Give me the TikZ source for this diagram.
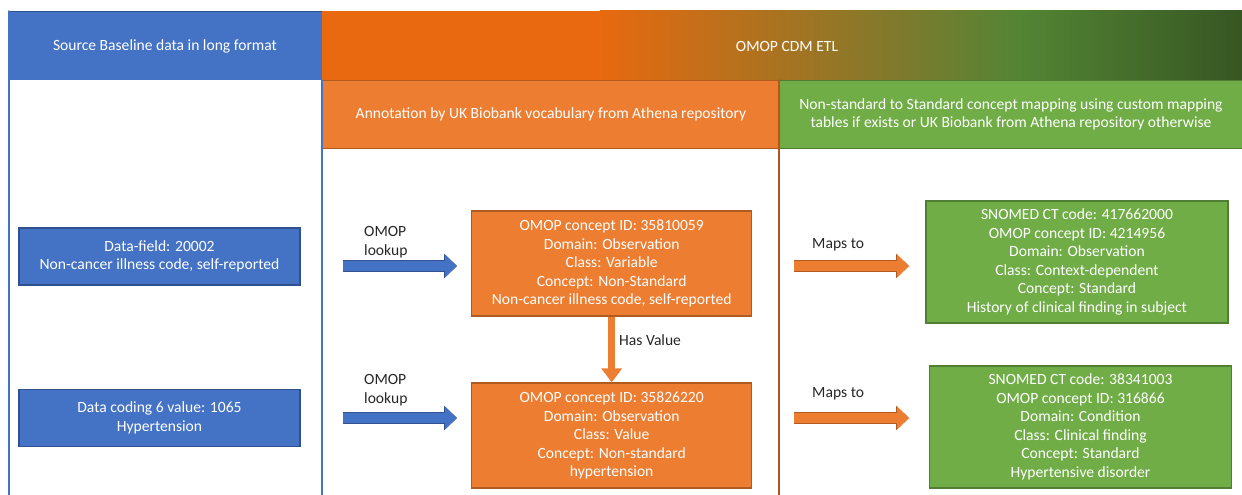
\documentclass[tikz,border=0pt]{standalone}
\usepackage{fontspec}
\setmainfont{Carlito}
\usepackage{tkz-euclide}
\usetikzlibrary{arrows.meta}

\definecolor{blueM}{HTML}{4472C4}
\definecolor{blueD}{HTML}{2F528F}
\definecolor{orangeM}{HTML}{ED7D31}
\definecolor{orangeD}{HTML}{AE5A21}
\definecolor{orangeH}{HTML}{E8690F}
\definecolor{oliveH}{HTML}{7E7A2D}
\definecolor{greenH}{HTML}{538534}
\definecolor{greenK}{HTML}{375623}
\definecolor{greenM}{HTML}{70AD47}
\definecolor{greenD}{HTML}{507E32}
\definecolor{brownL}{HTML}{B85318}
\definecolor{inkT}{HTML}{262626}

\begin{document}
\begin{tikzpicture}[x=1pt,y=-1pt,
  every node/.style={font=\fontsize{15.6}{18.5}\selectfont},
  srcbox/.style={draw=blueD,line width=1.2pt,fill=blueM,text=white,align=center,
    inner sep=0pt,minimum width=281pt,minimum height=57pt},
  omopbox/.style={draw=orangeD,line width=1.2pt,fill=orangeM,text=white,align=center,
    inner sep=0pt,minimum width=280pt,minimum height=105pt},
  snomedbox/.style={draw=greenD,line width=1.2pt,fill=greenM,text=white,align=center,
    inner sep=0pt,minimum width=302pt,minimum height=122pt},
  subhead/.style={line width=1pt,text=white,align=center,inner sep=0pt,
    anchor=north west,minimum height=68pt},
  lookarrow/.style={draw=blueM,line width=10pt,-{Triangle[length=12pt,width=22pt]},
    preaction={draw=blueD,line width=11.5pt,-{Triangle[length=13pt,width=24pt]}}},
  mapsarrow/.style={draw=orangeM,line width=10pt,-{Triangle[length=12pt,width=22pt]},
    preaction={draw=orangeD,line width=11.5pt,-{Triangle[length=13pt,width=24pt]}}},
  tag/.style={text=inkT,align=left,inner sep=0pt,anchor=west}]
\useasboundingbox (0,0) rectangle (1242,495);

% header row
\tkzDefPoint(9,11){hA}
\tkzDefPoint(322,80){hB}
\tkzDefPoint(322,11){hC}
\tkzDefPoint(1242,80){hD}
\fill[blueM] (hA) rectangle (hB);
\fill[orangeH] (hC) rectangle (600.5,80);
\shade[left color=orangeH,right color=oliveH] (600,11) rectangle (900,80);
\shade[left color=oliveH,right color=greenH] (899.5,11) rectangle (1020,80);
\shade[left color=greenH,right color=greenK] (1019.5,11) rectangle (hD);
\draw[blueD,line width=.8pt] (hA) -- (hC);
\node[text=white] (srchead) at (165,46) {Source Baseline data in long format};
\node[text=white] (etlhead) at (787,46) {OMOP CDM ETL};

% sub headers
\node[subhead,fill=orangeM,draw=orangeD,minimum width=457pt] (annot) at (322,80)
  {Annotation by UK Biobank vocabulary from Athena repository};
\node[subhead,fill=greenM,draw=greenD,minimum width=463pt] (mapping) at (779,80)
  {Non-standard to Standard concept mapping using custom mapping\\
   tables if exists or UK Biobank from Athena repository otherwise};

% column lines
\tkzDefPoint(9,495){bA}
\tkzDefPoint(322,80){tM}
\tkzDefPoint(322,495){bM}
\tkzDefPoint(779,80){tR}
\tkzDefPoint(779,495){bR}
\tkzDrawSegment[color=blueM,line width=1.5pt](hA,bA)
\tkzDrawSegment[color=blueM,line width=1.5pt](tM,bM)
\tkzDrawSegment[color=brownL,line width=1.5pt](tR,bR)

% source data
\node[srcbox] (src1) at (159.5,256.5) {Data-field: 20002\\Non-cancer illness code, self-reported};
\node[srcbox] (src2) at (159.5,418) {Data coding 6 value: 1065\\Hypertension};

% annotation
\node[omopbox] (omop1) at (611.7,263.5) {OMOP concept ID: 35810059\\Domain: Observation\\
  Class: Variable\\Concept: Non-Standard\\Non-cancer illness code, self-reported};
\node[omopbox] (omop2) at (611.7,435.5) {OMOP concept ID: 35826220\\Domain: Observation\\
  Class: Value\\Concept: Non-standard\\hypertension};

% standard concepts
\node[snomedbox] (snomed1) at (1077,262) {SNOMED CT code: 417662000\\OMOP concept ID: 4214956\\
  Domain: Observation\\Class: Context-dependent\\Concept: Standard\\History of clinical finding in subject};
\node[snomedbox] (snomed2) at (1080.5,427) {SNOMED CT code: 38341003\\OMOP concept ID: 316866\\
  Domain: Condition\\Class: Clinical finding\\Concept: Standard\\Hypertensive disorder};

% arrows
\coordinate (look1s) at (343,266);
\coordinate (look1e) at (457,266);
\coordinate (look2s) at (343,418);
\coordinate (look2e) at (457,418);
\coordinate (maps1s) at (794,266);
\coordinate (maps1e) at (909,266);
\coordinate (maps2s) at (794,418);
\coordinate (maps2e) at (909,418);
\draw[lookarrow] (look1s) -- (look1e);
\draw[lookarrow] (look2s) -- (look2e);
\draw[mapsarrow] (maps1s) -- (maps1e);
\draw[mapsarrow] (maps2s) -- (maps2e);
\draw[draw=orangeM,line width=6.5pt,-{Triangle[length=14pt,width=20pt]}] (omop1.south) -- (omop2.north);

% labels
\node[tag] (look1) at (364,242) {OMOP\\lookup};
\node[tag] (look2) at (364,390) {OMOP\\lookup};
\node[tag] (hasval) at (619,340) {Has Value};
\node[tag] (maps1) at (812,245) {Maps to};
\node[tag] (maps2) at (812,394) {Maps to};
\end{tikzpicture}
\end{document}
